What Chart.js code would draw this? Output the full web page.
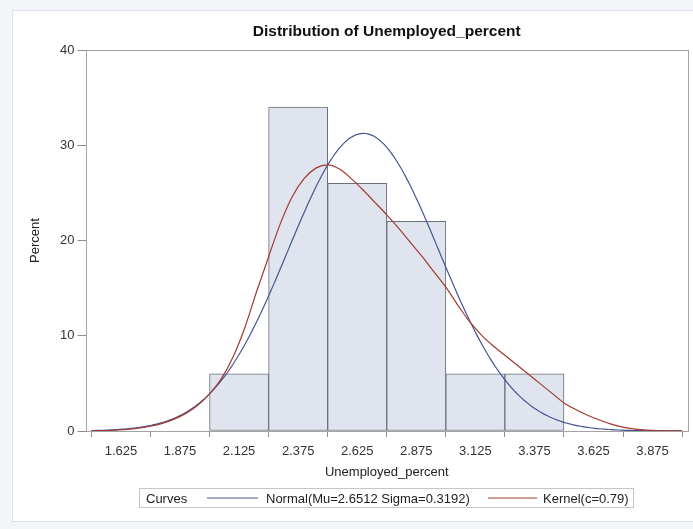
<!DOCTYPE html>
<html>
<head>
<meta charset="utf-8">
<script src="https://cdn.jsdelivr.net/npm/chart.js@4.4.1/dist/chart.umd.min.js"></script>
<style>
  html, body { margin: 0; padding: 0; background: #f3f5f9; }
  #frame { position: absolute; left: 12px; top: 10px; width: 681px; height: 512px;
           background: #ffffff; border: 1px solid #dde1e8; border-right: none; box-sizing: border-box; }
  #wrap { position: absolute; left: 0; top: 0; width: 693px; height: 529px; }
  #chart { position: absolute; left: 0; top: 0; }
  #legend { position: absolute; left: 139px; top: 488px; width: 495px; height: 20px;
            border: 1px solid #c6c6c6; box-sizing: border-box;
            font: 13px "Liberation Sans", Arial, sans-serif; color: #222; white-space: nowrap; }
  #legend span { position: absolute; top: 50%; transform: translateY(-50%); }
  #legend .ln { height: 0; border-top: 1px solid; }
</style>
</head>
<body>
<div id="frame"></div>
<div id="wrap">
  <canvas id="chart" width="693" height="529"></canvas>
  <div id="legend"></div>
</div>
<script>
// Histogram bins (midpoints) and their percentages
const binMidpoints = [2.125, 2.375, 2.625, 2.875, 3.125, 3.375];
const binPercents  = [6, 34, 26, 22, 6, 6];
const binWidth = 0.25;

// Axis tick labels
const xTickLabels = ['1.625', '1.875', '2.125', '2.375', '2.625', '2.875', '3.125', '3.375', '3.625', '3.875'];
const yTickLabels = ['0', '10', '20', '30', '40'];

// Fitted normal curve parameters
const normalMu = 2.6512;
const normalSigma = 0.3192;

// Kernel density estimate (percent scale), c = 0.79
const kernelX = [1.50, 1.55, 1.60, 1.65, 1.70, 1.75, 1.80, 1.85, 1.90, 1.95,
                 2.00, 2.05, 2.10, 2.15, 2.20, 2.25, 2.30, 2.35, 2.40, 2.45,
                 2.50, 2.55, 2.60, 2.65, 2.70, 2.75, 2.80, 2.85, 2.90, 2.95,
                 3.00, 3.05, 3.10, 3.15, 3.20, 3.25, 3.30, 3.35, 3.40, 3.45,
                 3.50, 3.55, 3.60, 3.65, 3.70, 3.75, 3.80, 3.85, 3.90, 3.95, 4.00];
const kernelY = [0.01, 0.03, 0.08, 0.16, 0.30, 0.50, 0.80, 1.25, 1.85, 2.70,
                 3.90, 5.50, 7.80, 10.9, 14.7, 18.3, 21.8, 24.6, 26.5, 27.6,
                 27.95, 27.5, 26.5, 25.3, 24.0, 22.7, 21.3, 19.8, 18.3, 16.7,
                 15.1, 13.25, 11.5, 10.1, 8.95, 7.95, 6.95, 5.95, 4.95, 3.95,
                 2.95, 2.25, 1.65, 1.15, 0.72, 0.40, 0.20, 0.09, 0.04, 0.015, 0.005];

const chartTitle = 'Distribution of Unemployed_percent';
const legendTitle = 'Curves';
const normalLabel = 'Normal(Mu=' + normalMu.toFixed(4) + ' Sigma=' + normalSigma.toFixed(4) + ')';
const kernelLabel = 'Kernel(c=0.79)';
const normalColor = '#445694';
const kernelColor = '#A23A2E';

// Normal density in percent units for the bin width, over the curve range
const normalPoints = [];
for (let i = 0; i <= 250; i++) {
  const x = 1.5 + i * 0.01;
  const z = (x - normalMu) / normalSigma;
  const y = 100 * binWidth * Math.exp(-0.5 * z * z) / (normalSigma * Math.sqrt(2 * Math.PI));
  normalPoints.push({ x: x, y: y });
}

const FONT = '"Liberation Sans", Arial, sans-serif';

// Grey frame around the plotting area, and the title centred over it
const plotFrame = {
  id: 'plotFrame',
  afterDatasetsDraw(chart) {
    const a = chart.chartArea, ctx = chart.ctx;
    ctx.save();
    ctx.strokeStyle = '#a4a4a4';
    ctx.lineWidth = 1;
    ctx.strokeRect(Math.round(a.left) + 0.5, Math.round(a.top) + 0.5,
                   Math.round(a.right - a.left) - 1, Math.round(a.bottom - a.top));
    ctx.fillStyle = '#111';
    ctx.font = 'bold 15.5px ' + FONT;
    ctx.textAlign = 'center';
    ctx.textBaseline = 'middle';
    ctx.fillText(chartTitle, (a.left + a.right) / 2, 32);
    ctx.restore();
  }
};

new Chart(document.getElementById('chart'), {
  type: 'bar',
  data: {
    datasets: [
      {
        type: 'line', label: normalLabel, data: normalPoints,
        borderColor: normalColor, borderWidth: 1.2, pointRadius: 0, tension: 0, order: 1
      },
      {
        type: 'line', label: kernelLabel,
        data: kernelX.map((x, i) => ({ x: x, y: kernelY[i] })),
        borderColor: kernelColor, borderWidth: 1.2, pointRadius: 0,
        cubicInterpolationMode: 'monotone', order: 0
      },
      {
        type: 'bar', label: 'Percent',
        data: binMidpoints.map((x, i) => ({ x: x, y: binPercents[i] })),
        backgroundColor: '#dfe4ee', borderColor: '#6c707c', borderWidth: 1,
        borderSkipped: false, barPercentage: 1, categoryPercentage: 1, grouped: false, order: 2
      }
    ]
  },
  options: {
    responsive: false,
    animation: false,
    events: [],
    layout: { padding: { left: 0, right: 5, top: 50, bottom: 0 } },
    plugins: {
      legend: { display: false },
      tooltip: { enabled: false },
      title: { display: false }
    },
    scales: {
      x: {
        type: 'linear', min: 1.475, max: 4.025, offset: false,
        afterBuildTicks: (axis) => { axis.ticks = xTickLabels.map(t => ({ value: parseFloat(t) })); },
        afterFit: (s) => { s.height = 98; },
        ticks: {
          autoSkip: false, maxRotation: 0, padding: 7, color: '#333',
          font: { family: FONT, size: 13 },
          callback: (v, i) => xTickLabels[i]
        },
        grid: { drawOnChartArea: false, drawTicks: true, tickLength: 6, color: '#8c8c8c' },
        border: { display: false },
        title: {
          display: true, text: 'Unemployed_percent', color: '#222',
          font: { family: FONT, size: 13 }, padding: { top: 0, bottom: 49 }
        }
      },
      y: {
        min: 0, max: 40,
        afterBuildTicks: (axis) => { axis.ticks = yTickLabels.map(t => ({ value: parseFloat(t) })); },
        afterFit: (s) => { s.width = 85.5; },
        ticks: { padding: 3, color: '#333', font: { family: FONT, size: 13 },
                 callback: (v, i) => yTickLabels[i] },
        grid: { drawOnChartArea: false, drawTicks: true, tickLength: 8, color: '#8c8c8c' },
        border: { display: false },
        title: {
          display: true, text: 'Percent', color: '#222',
          font: { family: FONT, size: 13 }, padding: { top: 28, bottom: 0 }
        }
      }
    }
  },
  plugins: [plotFrame]
});

// Curve legend below the axis (positions relative to the legend box)
const legend = document.getElementById('legend');
function addSpan(cls, text, left, width, color) {
  const s = document.createElement('span');
  if (cls) s.className = cls;
  if (text) s.textContent = text;
  s.style.left = left + 'px';
  if (width) s.style.width = width + 'px';
  if (color) s.style.borderTopColor = color;
  legend.appendChild(s);
}
addSpan('', legendTitle, 6);
addSpan('ln', '', 67, 51, normalColor);
addSpan('', normalLabel, 126);
addSpan('ln', '', 348, 49, kernelColor);
addSpan('', kernelLabel, 403);
</script>
</body>
</html>
